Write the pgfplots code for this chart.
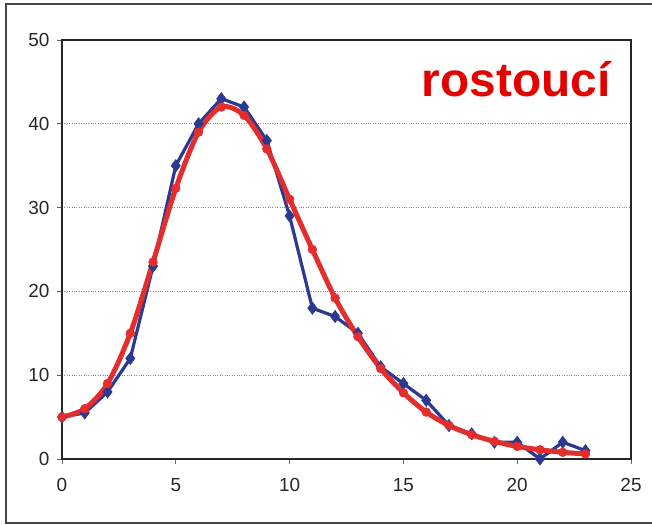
\documentclass[border=0pt]{standalone}
\usepackage{pgfplots}
\pgfplotsset{compat=1.18}
\usepackage{fontspec}
\setmainfont{Liberation Sans}
\definecolor{myblue}{RGB}{43,57,144}
\definecolor{myred}{RGB}{228,46,46}
\definecolor{framegray}{RGB}{70,70,70}
\begin{document}
\begin{tikzpicture}[x=1bp,y=1bp]
\useasboundingbox (-62,-66) rectangle (590,459);
\draw[framegray,line width=1.6bp] (-56,-64) rectangle (598,455);
\begin{axis}[
  at={(0,0)}, anchor=south west,
  scale only axis, width=569bp, height=419bp,
  xmin=0, xmax=25, ymin=0, ymax=50,
  xtick={0,5,...,25}, ytick={0,10,...,50},
  tick align=outside, tick pos=left,
  major tick length=5bp,
  every tick/.style={black!60, line width=0.8bp},
  axis line style={black!85, line width=1.4bp},
  ymajorgrids,
  grid style={black!45, dotted, line width=0.6bp},
  tick label style={font=\fontsize{19}{22}\selectfont, text=black!85},
  /pgf/number format/assume math mode=true,
  xticklabel style={yshift=-11bp},
  yticklabel style={xshift=-4bp},
  clip=false,
]
\addplot[myblue, line width=3.2bp, mark=diamond*, mark size=6.2bp, mark options={solid, fill=myblue, draw=myblue, line width=0.5bp}]
coordinates {
(0,5) (1,5.5) (2,8) (3,12) (4,23) (5,35) (6,40) (7,43) (8,42) (9,38)
(10,29) (11,18) (12,17) (13,15) (14,11) (15,9) (16,7) (17,4) (18,3)
(19,2) (20,2) (21,0) (22,2) (23,1)
};
\addplot[myred, line width=5bp, smooth, mark=*, mark size=4.4bp, mark options={solid, fill=myred, draw=myred, line width=0.5bp}]
coordinates {
(0,5) (1,6) (2,9) (3,15) (4,23.5) (5,32.3) (6,39) (7,42) (8,41) (9,37)
(10,31) (11,25) (12,19.2) (13,14.6) (14,10.8) (15,7.9) (16,5.6) (17,4.0)
(18,2.9) (19,2.1) (20,1.5) (21,1.1) (22,0.8) (23,0.6)
};
\node[anchor=base east, text=red!90!black, font=\fontsize{48}{52}\selectfont\bfseries, inner sep=0pt] at (axis cs:24.1,43.2) {rostoucí};
\end{axis}
\end{tikzpicture}
\end{document}
